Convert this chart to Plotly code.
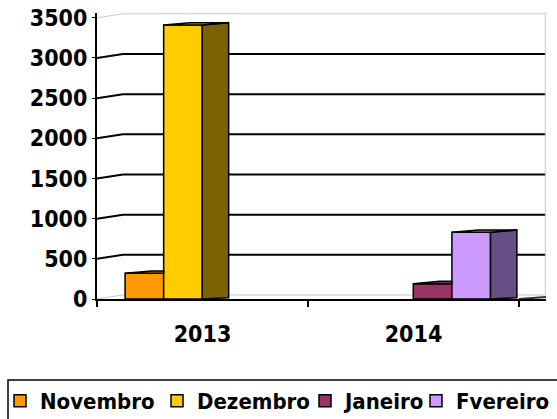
import plotly.graph_objects as go

categories = ["2013", "2014"]
series_names = ["Novembro", "Dezembro", "Janeiro", "Fvereiro"]
novembro = [320, None]
dezembro = [3410, None]
janeiro = [None, 190]
fvereiro = [None, 830]
y_ticks = [0, 500, 1000, 1500, 2000, 2500, 3000, 3500]

front_colors = ["#FF9900", "#FFCC00", "#993366", "#CC99FF"]
top_colors = ["#CC7A00", "#D9AD00", "#7A2952", "#A87FD6"]
side_colors = ["#995C00", "#7A6300", "#5C1F3D", "#674E84"]

series = [novembro, dezembro, janeiro, fvereiro]

FONT = "DejaVu Sans Condensed, DejaVu Sans"
W_FIG, H_FIG = 557, 419
M_L, M_R, M_T, M_B = 97, 11, 13, 120
S = 0.133   # group start offset within category
W = 0.183   # bar width
DX = 0.125  # depth in x units
DY = 30     # depth in y units
WDX = 0.123
WDY = 50
XMAX = 2.128

pw = W_FIG - M_L - M_R
ph = H_FIG - M_T - M_B
def px_x(p):
    return (p - M_L) / pw
def px_y(p):
    return (H_FIG - M_B - p) / ph

legend_ids = ["legend", "legend2", "legend3", "legend4"]
legend_left_px = [0, 157, 305, 416]

fig = go.Figure()

# front faces
for i, (name, vals) in enumerate(zip(series_names, series)):
    xs = [c + S + i * W + W / 2 for c in range(len(categories))]
    fig.add_trace(go.Bar(
        x=xs, y=vals, width=W, name=name, legend=legend_ids[i],
        marker=dict(color=front_colors[i], line=dict(color="black", width=1.5)),
        hoverinfo="skip",
    ))

# 3D faces
for c in range(len(categories)):
    for i, vals in enumerate(series):
        v = vals[c]
        if v is None:
            continue
        x0 = c + S + i * W
        x1 = x0 + W
        nxt = series[i + 1][c] if i + 1 < len(series) else None
        hidden = nxt is not None and nxt >= v
        if hidden:
            tx = [x0, x1, x1, x0 + DX, x0]
            ty = [v, v, v + DY, v + DY, v]
        else:
            tx = [x0, x1, x1 + DX, x0 + DX, x0]
            ty = [v, v, v + DY, v + DY, v]
            sx = [x1, x1 + DX, x1 + DX, x1, x1]
            sy = [0, DY * 0.5, v + DY, v, 0]
            fig.add_trace(go.Scatter(
                x=sx, y=sy, fill="toself", fillcolor=side_colors[i], mode="lines",
                line=dict(color="black", width=1.5), showlegend=False, hoverinfo="skip"))
        fig.add_trace(go.Scatter(
            x=tx, y=ty, fill="toself", fillcolor=top_colors[i], mode="lines",
            line=dict(color="black", width=1.5), showlegend=False, hoverinfo="skip"))

shapes = []
for t in y_ticks:
    col = "#C8C8C8" if t in (0, 3500) else "black"
    wid = 1 if t in (0, 3500) else 2
    shapes.append(dict(type="line", xref="x", yref="y", x0=0, y0=t, x1=WDX, y1=t + WDY,
                       line=dict(color=col, width=wid), layer="below"))
    shapes.append(dict(type="line", xref="x", yref="y", x0=WDX, y0=t + WDY, x1=XMAX, y1=t + WDY,
                       line=dict(color=col, width=wid), layer="below"))
shapes.append(dict(type="line", xref="x", yref="y", x0=XMAX - 0.003, y0=WDY, x1=XMAX - 0.003, y1=3500 + WDY,
                   line=dict(color="#C8C8C8", width=1), layer="below"))
shapes.append(dict(type="line", xref="x", yref="y", x0=2.0, y0=0, x1=XMAX, y1=WDY * 0.5,
                   line=dict(color="#333333", width=2), layer="below"))

# legend frame
shapes.append(dict(type="rect", xref="paper", yref="paper",
                   x0=px_x(8), x1=px_x(570), y0=px_y(380), y1=px_y(430),
                   line=dict(color="black", width=1.5), fillcolor="rgba(0,0,0,0)"))

layout_legends = {}
for lid, lx in zip(legend_ids, legend_left_px):
    layout_legends[lid] = dict(
        orientation="h",
        x=px_x(lx), xanchor="left", y=px_y(401), yanchor="middle",
        bgcolor="rgba(0,0,0,0)", borderwidth=0,
        font=dict(family=FONT, size=22, color="black", weight="bold"),
        itemwidth=30,
    )

fig.update_layout(
    width=W_FIG, height=H_FIG,
    margin=dict(l=M_L, r=M_R, t=M_T, b=M_B, autoexpand=False),
    paper_bgcolor="white", plot_bgcolor="white",
    barmode="overlay",
    shapes=shapes,
    showlegend=True,
    xaxis=dict(
        range=[0, XMAX], showgrid=False, zeroline=False, automargin=False,
        showline=True, linecolor="black", linewidth=2,
        tickmode="array", tickvals=[0.5, 1.5], ticktext=categories, ticks="",
        ticklabelstandoff=13,
        minor=dict(tickmode="linear", tick0=0, dtick=1, ticks="outside", ticklen=6,
                   tickcolor="black", tickwidth=1.5, showgrid=False),
        tickfont=dict(family=FONT, size=23, color="black", weight="bold"),
    ),
    yaxis=dict(
        range=[0, 3560], showgrid=False, zeroline=False, automargin=False,
        showline=True, linecolor="black", linewidth=2,
        tickmode="array", tickvals=y_ticks, ticks="outside", ticklen=3,
        tickcolor="black",
        tickfont=dict(family=FONT, size=23, color="black", weight="bold"),
    ),
    **layout_legends,
)

fig.write_html(
    "out.html",
    config={"displayModeBar": False},
    post_script="document.body.style.margin='0';document.body.style.overflow='hidden';",
)
